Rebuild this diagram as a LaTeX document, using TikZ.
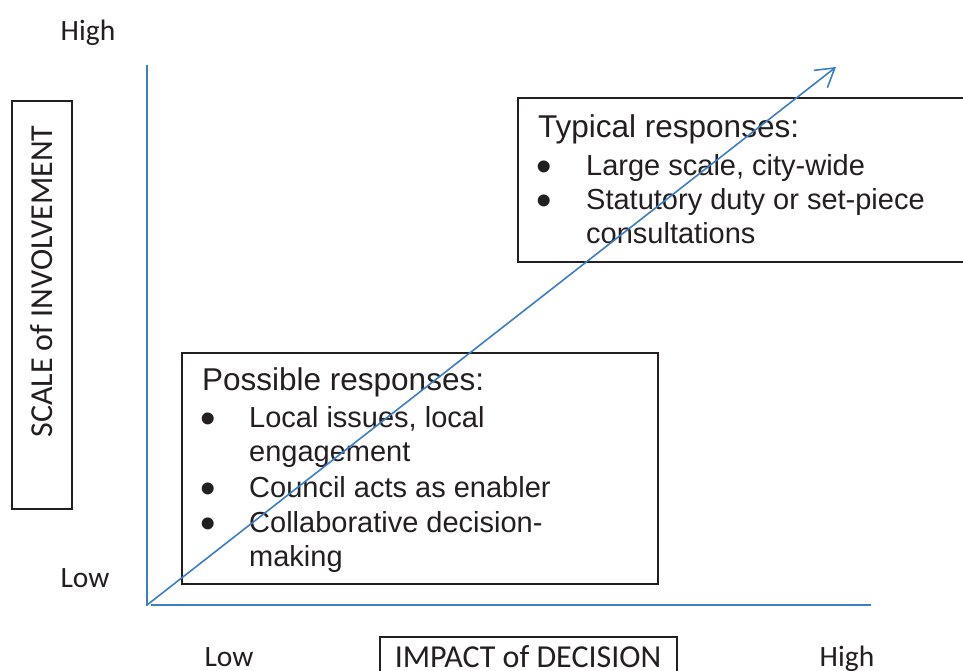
\documentclass[tikz,border=0pt]{standalone}
\usepackage{fontspec}
\setmainfont{Liberation Sans}
\newfontfamily\axisfont{Carlito}
\usetikzlibrary{arrows.meta}
\definecolor{axisblue}{RGB}{61,125,196}
\definecolor{boxgray}{RGB}{35,31,32}
\begin{document}
\begin{tikzpicture}[x=1pt,y=-1pt,
  frame/.style={draw=boxgray,line width=1.5pt,inner sep=0pt,anchor=north west},
  axislbl/.style={font=\axisfont\fontsize{29.5}{32}\selectfont,text=boxgray,inner sep=0pt,anchor=base},
  axistitle/.style={font=\axisfont\fontsize{32}{36}\selectfont,text=boxgray,inner sep=0pt,anchor=base},
  head/.style={font=\fontsize{31.5}{34}\selectfont,text=boxgray,inner sep=0pt,anchor=base west},
  item/.style={font=\fontsize{29}{32}\selectfont,text=boxgray,inner sep=0pt,anchor=base west},
  bul/.style={font=\fontsize{44}{46}\selectfont,text=boxgray,inner sep=0pt,anchor=base,yshift=-6pt},
  axisline/.style={draw=axisblue,line width=2pt},
  trendline/.style={draw=axisblue,line width=1.6pt,-{Straight Barb[length=18pt,width=22pt,line width=1.6pt]}}
]
\useasboundingbox (0,0) rectangle (963,670);
\fill[white] (0,0) rectangle (963,670);

% boxes
\node[frame,minimum width=60pt,minimum height=408pt] (ybox) at (11,100) {};
\node[axistitle,rotate=90] (ytitle) at (52,281.5) {SCALE of INVOLVEMENT};
\node[frame,minimum width=297pt,minimum height=50pt] (xbox) at (379,636) {};
\node[axistitle] (xtitle) at (528,667) {IMPACT of DECISION};

\node[frame,minimum width=460pt,minimum height=164pt] (tbox) at (517,97) {};
\node[head] (t0) at (538,137) {Typical responses:};
\node[bul] (tb1) at (544,175) {\textbullet};
\node[item] (t1) at (586,175) {Large scale, city-wide};
\node[bul] (tb2) at (544,209) {\textbullet};
\node[item] (t2) at (586,209) {Statutory duty or set-piece};
\node[item] (t3) at (586,243) {consultations};

\node[frame,minimum width=476pt,minimum height=231pt] (pbox) at (181,352) {};
\node[head] (p0) at (202,390) {Possible responses:};
\node[bul] (pb1) at (208,427) {\textbullet};
\node[item] (p1) at (249,427) {Local issues, local};
\node[item] (p2) at (249,461) {engagement};
\node[bul] (pb2) at (208,497) {\textbullet};
\node[item] (p3) at (249,497) {Council acts as enabler};
\node[bul] (pb3) at (208,532) {\textbullet};
\node[item] (p4) at (249,532) {Collaborative decision-};
\node[item] (p5) at (249,566) {making};

% axis labels
\node[axislbl] (yhigh) at (88,40) {High};
\node[axislbl] (ylow) at (85,587) {Low};
\node[axislbl] (xlow) at (229,666) {Low};
\node[axislbl] (xhigh) at (847,666) {High};

% axes
\coordinate (yorig) at (147,606);
\coordinate (ytop) at (147,65);
\coordinate (xorig) at (151,605);
\coordinate (xend) at (871,605);
\coordinate (dstart) at (147,605);
\coordinate (dend) at (836,67);
\draw[axisline] (yorig) -- (ytop);
\draw[axisline] (xorig) -- (xend);
\draw[trendline] (dstart) -- (dend);
\end{tikzpicture}
\end{document}
